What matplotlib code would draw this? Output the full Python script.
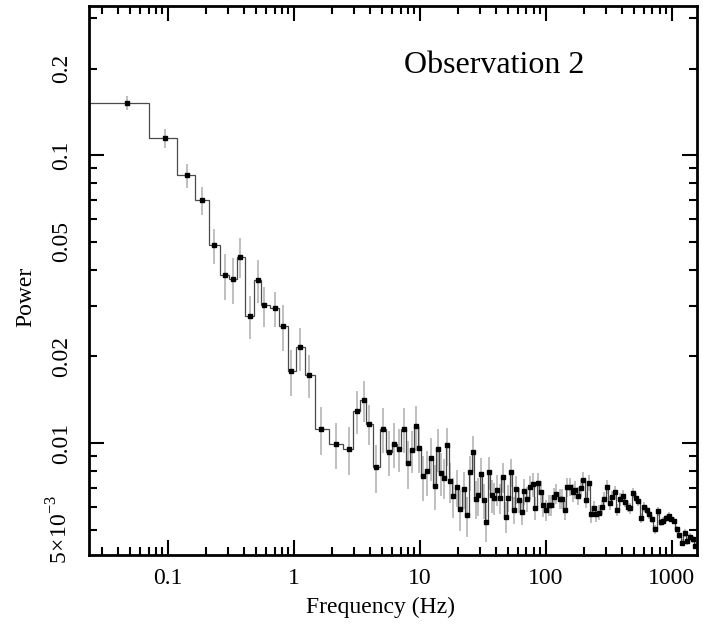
import numpy as np
import matplotlib
matplotlib.use("Agg")
import matplotlib.pyplot as plt
from matplotlib.ticker import LogLocator, FuncFormatter, NullFormatter

plt.rcParams['font.family'] = ['Liberation Serif', 'DejaVu Serif']
plt.rcParams['mathtext.fontset'] = 'custom'
plt.rcParams['mathtext.rm'] = 'Liberation Serif'

# frequencies (Hz) of the binned power spectrum
freq = [0.047, 0.094, 0.141, 0.187, 0.233, 0.28, 0.326, 0.375, 0.445, 0.515,
        0.58, 0.703, 0.819, 0.953, 1.116, 1.31, 1.63, 2.15, 2.72, 3.15,
        3.57, 3.92, 4.5, 5.09, 5.67, 6.25, 6.81, 7.43, 8.03, 8.69,
        9.3, 9.82, 10.6, 11.4, 12.2, 13.1, 13.9, 14.6, 15.6, 16.5,
        17.4, 18.4, 19.5, 20.7, 22.2, 23.6, 24.9, 26.4, 27.7, 29.0,
        30.5, 32.0, 33.6, 35.3, 37.1, 38.9, 41.1, 43.2, 45.3, 47.9,
        50.2, 52.7, 55.4, 58.1, 61.1, 64.1, 67.3, 70.7, 74.6, 78.3,
        82.2, 86.5, 90.8, 95.2, 100, 105, 110, 115, 121, 128,
        134, 141, 148, 155, 163, 171, 179, 188, 198, 208,
        218, 228, 239, 251, 263, 277, 290, 305, 320, 334,
        351, 368, 387, 406, 426, 445, 467, 493, 515, 541,
        571, 596, 630, 656, 690, 733, 778, 813, 853, 896,
        940, 988, 1037, 1089, 1143, 1200, 1259, 1321, 1389, 1459,
        1529]

power = [0.152, 0.1146, 0.085, 0.0698, 0.0487, 0.0384, 0.0371, 0.0444, 0.0277, 0.0369,
         0.0301, 0.0294, 0.0255, 0.0178, 0.0215, 0.01725, 0.0112, 0.00993, 0.00953, 0.01294,
         0.0141, 0.01167, 0.00828, 0.01122, 0.00933, 0.00995, 0.00955, 0.01122, 0.00853, 0.00944,
         0.01143, 0.00962, 0.00766, 0.00797, 0.00889, 0.00711, 0.00953, 0.00788, 0.00758, 0.0098,
         0.00735, 0.00652, 0.00703, 0.00591, 0.00691, 0.0056, 0.00791, 0.00931, 0.00641, 0.00658,
         0.0078, 0.00634, 0.00533, 0.00791, 0.00659, 0.00645, 0.00689, 0.00642, 0.00762, 0.00555,
         0.00645, 0.00793, 0.00586, 0.00692, 0.00634, 0.00576, 0.00679, 0.00639, 0.00701, 0.00719,
         0.00595, 0.00724, 0.00678, 0.00608, 0.00585, 0.00608, 0.00608, 0.00647, 0.00667, 0.0064,
         0.0064, 0.00583, 0.00703, 0.00705, 0.00673, 0.00687, 0.00655, 0.00699, 0.00742, 0.00634,
         0.00728, 0.00566, 0.00594, 0.00567, 0.00573, 0.00598, 0.0064, 0.00703, 0.00621, 0.00647,
         0.00674, 0.00585, 0.00637, 0.00655, 0.00625, 0.00601, 0.00594, 0.00669, 0.00642, 0.00631,
         0.0055, 0.00601, 0.00585, 0.00566, 0.00545, 0.00501, 0.00578, 0.0053, 0.00537, 0.00547,
         0.00558, 0.00546, 0.00537, 0.00501, 0.0048, 0.00451, 0.00486, 0.00457, 0.00473, 0.00463,
         0.0044]

# fractional 1-sigma errors
frac_err = [0.055, 0.075, 0.095, 0.11, 0.14, 0.18, 0.18, 0.16, 0.17, 0.17,
            0.16, 0.14, 0.18, 0.18, 0.17, 0.17, 0.19, 0.18, 0.19, 0.17,
            0.16, 0.16, 0.19, 0.18, 0.18, 0.18, 0.17, 0.18, 0.19, 0.17,
            0.18, 0.18, 0.18, 0.18, 0.17, 0.18, 0.17, 0.17, 0.16, 0.15,
            0.16, 0.16, 0.15, 0.16, 0.15, 0.16, 0.14, 0.14, 0.15, 0.15,
            0.14, 0.14, 0.15, 0.13, 0.13, 0.13, 0.12, 0.12, 0.12, 0.12,
            0.11, 0.11, 0.11, 0.11, 0.10, 0.10, 0.10, 0.10, 0.095, 0.095,
            0.09, 0.09, 0.09, 0.09, 0.085, 0.085, 0.085, 0.08, 0.08, 0.08,
            0.08, 0.075, 0.075, 0.075, 0.07, 0.07, 0.07, 0.07, 0.065, 0.065,
            0.065, 0.065, 0.06, 0.06, 0.06, 0.06, 0.055, 0.055, 0.055, 0.05,
            0.05, 0.05, 0.05, 0.045, 0.045, 0.045, 0.045, 0.04, 0.04, 0.04,
            0.04, 0.04, 0.035, 0.035, 0.035, 0.035, 0.035, 0.03, 0.03, 0.03,
            0.03, 0.03, 0.03, 0.03, 0.03, 0.03, 0.03, 0.03, 0.03, 0.03,
            0.03]

ylabels = {0.005: r'$5\!\times\!10^{-3}$', 0.01: '0.01', 0.02: '0.02',
           0.05: '0.05', 0.1: '0.1', 0.2: '0.2'}

f = np.array(freq)
p = np.array(power)
perr = p * np.array(frac_err)

# bin edges half-way between neighbouring frequencies
edges = np.concatenate(([f[0] - (f[1] - f[0]) / 2],
                        (f[1:] + f[:-1]) / 2,
                        [f[-1] + (f[-1] - f[-2]) / 2]))

fig = plt.figure(figsize=(7.04, 6.3), dpi=100)
ax = fig.add_axes([0.1264, 0.119, 0.8636, 0.871])

ax.errorbar(f, p, yerr=perr, fmt='none', ecolor='#b4b4b4', elinewidth=1.2, zorder=1)
ax.stairs(p, edges, color='#4a4a4a', linewidth=0.9, baseline=None, zorder=2)
ax.plot(f, p, 's', color='black', markersize=3.1, zorder=3)

ax.set_xscale('log')
ax.set_yscale('log')
ax.set_xlim(0.0235, 1580)
ax.set_ylim(0.00408, 0.329)

ax.xaxis.set_major_locator(LogLocator(base=10))
ax.xaxis.set_minor_locator(LogLocator(base=10, subs=np.arange(2, 10)))
ax.xaxis.set_major_formatter(FuncFormatter(lambda v, pos: '%g' % v))
ax.xaxis.set_minor_formatter(NullFormatter())

ax.yaxis.set_major_locator(LogLocator(base=10))
ax.yaxis.set_minor_locator(LogLocator(base=10, subs=np.arange(2, 10)))

def ylab(v, pos):
    for k, s in ylabels.items():
        if abs(v - k) < k * 1e-3:
            return s
    return ''

ax.yaxis.set_major_formatter(FuncFormatter(ylab))
ax.yaxis.set_minor_formatter(FuncFormatter(ylab))

ax.tick_params(which='both', direction='in', top=True, right=True, labelsize=17, width=1.5)
ax.tick_params(which='major', length=11)
ax.tick_params(which='minor', length=5.5)
ax.tick_params(axis='x', which='both', pad=9)
ax.tick_params(axis='y', which='both', labelrotation=90, pad=12)
for lab in ax.get_yticklabels(which='both'):
    lab.set_va('center')

for s in ax.spines.values():
    s.set_linewidth(2)

ax.set_xlabel('Frequency (Hz)', fontsize=17)
ax.xaxis.set_label_coords(0.479, -0.076)
ax.set_ylabel('Power', fontsize=17)
ax.yaxis.set_label_coords(-0.086, 0.47)

ax.text(0.666, 0.8925, 'Observation 2', transform=ax.transAxes, fontsize=23,
        ha='center', va='center')

fig.savefig('out.png', dpi=100)
